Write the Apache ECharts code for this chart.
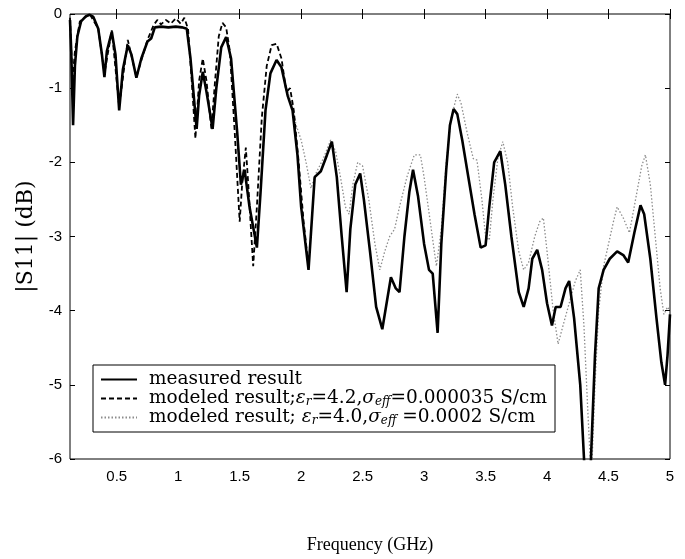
<!DOCTYPE html>
<html>

<head>
    <meta charset="utf-8">
    <title>|S11| vs Frequency</title>
    <script src="https://cdn.jsdelivr.net/npm/echarts@6/dist/echarts.min.js"></script>
    <style>
        body { margin: 0; background: #fff; }
        #chart { width: 685px; height: 559px; }
    </style>
</head>

<body>
    <div id="chart"></div>
    <script>
        // measured result (GHz, dB)
        var measFreq = [0.12, 0.13, 0.145, 0.16, 0.18, 0.21, 0.25, 0.28, 0.31, 0.35, 0.38, 0.40, 0.42, 0.46, 0.49, 0.52, 0.55, 0.59, 0.62, 0.66,
            0.70, 0.75, 0.78, 0.81, 0.86, 0.92, 0.98, 1.03, 1.07, 1.10, 1.15, 1.17, 1.20, 1.23, 1.28, 1.31, 1.35, 1.39, 1.43, 1.48,
            1.51, 1.54, 1.58, 1.64, 1.67, 1.71, 1.75, 1.80, 1.84, 1.89, 1.93, 1.97, 2.00, 2.06, 2.09, 2.11, 2.16, 2.21, 2.25, 2.29,
            2.33, 2.37, 2.40, 2.44, 2.48, 2.51, 2.56, 2.61, 2.66, 2.70, 2.73, 2.77, 2.80, 2.84, 2.88, 2.91, 2.95, 3.00, 3.04, 3.07,
            3.11, 3.14, 3.18, 3.21, 3.24, 3.27, 3.31, 3.36, 3.41, 3.46, 3.50, 3.53, 3.57, 3.62, 3.66, 3.71, 3.77, 3.81, 3.85, 3.88,
            3.92, 3.96, 4.00, 4.04, 4.07, 4.11, 4.15, 4.18, 4.22, 4.27, 4.31, 4.35, 4.39, 4.42, 4.46, 4.51, 4.57, 4.62, 4.66, 4.71,
            4.76, 4.79, 4.84, 4.89, 4.93, 4.96, 4.98, 5.00];
        var measVal = [-0.08, -0.5, -1.5, -0.7, -0.3, -0.1, -0.03, -0.01, -0.04, -0.2, -0.55, -0.85, -0.5, -0.24, -0.55, -1.3, -0.75, -0.42, -0.55, -0.86,
            -0.6, -0.37, -0.33, -0.18, -0.17, -0.18, -0.17, -0.18, -0.2, -0.6, -1.55, -1.1, -0.78, -1.05, -1.55, -1.0, -0.45, -0.31, -0.6, -1.6,
            -2.3, -2.1, -2.6, -3.15, -2.4, -1.3, -0.8, -0.62, -0.72, -1.1, -1.3, -1.9, -2.6, -3.45, -2.7, -2.2, -2.12, -1.9, -1.72, -2.2,
            -3.0, -3.75, -2.9, -2.3, -2.15, -2.5, -3.2, -3.95, -4.25, -3.85, -3.55, -3.7, -3.75, -3.0, -2.4, -2.1, -2.45, -3.1, -3.45, -3.5,
            -4.3, -3.1, -2.1, -1.5, -1.28, -1.35, -1.7, -2.2, -2.7, -3.15, -3.12, -2.6, -2.0, -1.85, -2.3, -3.0, -3.75, -3.95, -3.7, -3.3,
            -3.18, -3.45, -3.9, -4.2, -3.95, -3.95, -3.7, -3.6, -4.1, -5.0, -6.3, -6.3, -4.6, -3.7, -3.45, -3.3, -3.2, -3.25, -3.35, -2.95,
            -2.58, -2.7, -3.3, -4.1, -4.7, -5.0, -4.6, -4.05];

        // modeled, er=4.2, sigma=0.000035 S/cm
        var mod42Freq = [0.12, 0.14, 0.16, 0.20, 0.28, 0.35, 0.40, 0.46, 0.52, 0.59, 0.66, 0.75, 0.80, 0.83, 0.86, 0.90, 0.94, 0.98, 1.02, 1.05,
            1.08, 1.11, 1.14, 1.17, 1.20, 1.23, 1.27, 1.30, 1.33, 1.36, 1.39, 1.42, 1.46, 1.50, 1.52, 1.55, 1.57, 1.61, 1.64, 1.68,
            1.72, 1.76, 1.80, 1.84, 1.88, 1.91, 1.94, 1.98, 2.02, 2.06];
        var mod42Val = [-0.05, -0.9, -0.5, -0.1, 0.0, -0.2, -0.8, -0.22, -1.25, -0.35, -0.85, -0.35, -0.15, -0.08, -0.14, -0.08, -0.13, -0.06, -0.13, -0.05,
            -0.2, -0.9, -1.68, -0.9, -0.6, -0.9, -1.55, -0.9, -0.3, -0.12, -0.18, -0.5, -1.6, -2.8, -2.3, -1.8, -2.3, -3.4, -2.6, -1.4,
            -0.7, -0.42, -0.4, -0.6, -1.05, -1.0, -1.3, -2.0, -2.8, -3.4];

        // modeled, er=4.0, sigma=0.0002 S/cm
        var mod40Freq = [1.88, 1.92, 1.96, 2.00, 2.04, 2.08, 2.12, 2.18, 2.24, 2.28, 2.32, 2.36, 2.39, 2.42, 2.46, 2.50, 2.55, 2.60, 2.64, 2.68,
            2.72, 2.76, 2.80, 2.86, 2.92, 2.97, 3.00, 3.05, 3.10, 3.14, 3.18, 3.22, 3.27, 3.30, 3.35, 3.40, 3.43, 3.47, 3.50, 3.53,
            3.56, 3.60, 3.64, 3.68, 3.72, 3.77, 3.81, 3.85, 3.90, 3.94, 3.97, 4.00, 4.05, 4.09, 4.13, 4.18, 4.23, 4.27, 4.30, 4.33,
            4.36, 4.39, 4.42, 4.46, 4.50, 4.54, 4.57, 4.62, 4.67, 4.72, 4.77, 4.80, 4.84, 4.88, 4.92, 4.95, 4.98, 5.00];
        var mod40Val = [-1.0, -1.2, -1.5, -1.7, -2.0, -2.35, -2.15, -1.95, -1.7, -1.85, -2.2, -2.6, -2.7, -2.3, -2.0, -2.05, -2.5, -3.1, -3.45, -3.2,
            -3.0, -2.9, -2.6, -2.2, -1.9, -1.9, -2.2, -2.8, -3.4, -2.9, -2.0, -1.4, -1.08, -1.2, -1.6, -1.95, -1.97, -2.5, -3.0, -3.05,
            -2.5, -1.95, -1.72, -2.0, -2.6, -3.2, -3.45, -3.35, -3.0, -2.8, -2.75, -3.2, -4.0, -4.45, -4.2, -3.9, -3.6, -3.45, -4.2, -5.3,
            -6.3, -5.0, -4.0, -3.4, -3.1, -2.8, -2.6, -2.75, -2.95, -2.5, -2.05, -1.9, -2.3, -3.0, -3.7, -4.05, -3.95, -4.0];

        // tick labels
        var xTicks = [0.5, 1, 1.5, 2, 2.5, 3, 3.5, 4, 4.5, 5];
        var yTicks = [0, -1, -2, -3, -4, -5, -6];

        function pairs(xs, ys) {
            var out = [];
            for (var i = 0; i < xs.length; i++) out.push([xs[i], ys[i]]);
            return out;
        }

        var serif = '"Liberation Serif", "DejaVu Serif", serif';
        var wideSerif = '"DejaVu Serif", "Liberation Serif", serif';
        var sans = '"Liberation Sans", Arial, sans-serif';

        var chart = echarts.init(document.getElementById('chart'));

        var tickStyle = { inside: true, length: 5, lineStyle: { color: '#000' } };
        // legend text, with subscripts for epsilon_r and sigma_eff
        var legendNames = {
            measured: '{g|}{t|measured result}',
            mod42: '{g|}{t|modeled result;}{i|ε}{s|r}{t|=4.2,}{i|σ}{s|eff}{t|=0.000035 S/cm}',
            mod40: '{g|}{t|modeled result; }{i|ε}{s|r}{t|=4.0,}{i|σ}{s|eff}{t| =0.0002 S/cm}'
        };

        var option = {
            animation: false,
            backgroundColor: '#fff',
            grid: { left: 70, right: 15, top: 14, bottom: 99, show: true, borderColor: '#000', borderWidth: 1 },
            legend: {
                orient: 'vertical',
                left: 93,
                top: 365,
                backgroundColor: '#fff',
                borderColor: '#000',
                borderWidth: 1,
                borderRadius: 0,
                padding: [5, 8, 5, 7],
                itemWidth: 36,
                itemHeight: 10,
                itemGap: 0,
                itemStyle: { opacity: 0, borderWidth: 0 },
                data: ['measured', 'mod42', 'mod40'],
                formatter: function (name) { return legendNames[name]; },
                textStyle: {
                    rich: {
                        g: { width: 7 },
                        t: { fontFamily: wideSerif, fontSize: 18.5, color: '#000', lineHeight: 18 },
                        i: { fontFamily: wideSerif, fontSize: 18.5, fontStyle: 'italic', color: '#000', lineHeight: 18 },
                        s: { fontFamily: wideSerif, fontSize: 12, fontStyle: 'italic', color: '#000', lineHeight: 18, verticalAlign: 'bottom', padding: [6, 0, 0, 0] }
                    }
                }
            },
            xAxis: [{
                type: 'value',
                min: 0.12,
                max: 5,
                name: 'Frequency (GHz)',
                nameLocation: 'middle',
                nameGap: 77,
                nameTextStyle: { fontFamily: serif, fontSize: 18, color: '#000' },
                axisLine: { show: false },
                splitLine: { show: false },
                axisTick: Object.assign({ customValues: xTicks }, tickStyle),
                axisLabel: { customValues: xTicks, fontFamily: sans, fontSize: 15, color: '#000', margin: 10 }
            }, {
                type: 'value',
                position: 'top',
                min: 0.12,
                max: 5,
                axisLine: { show: false },
                splitLine: { show: false },
                axisTick: Object.assign({ customValues: xTicks }, tickStyle),
                axisLabel: { show: false }
            }],
            yAxis: [{
                type: 'value',
                min: -6,
                max: 0,
                interval: 1,
                name: '|S11| (dB)',
                nameLocation: 'middle',
                nameGap: 30,
                nameTextStyle: { fontFamily: wideSerif, fontSize: 22, color: '#000' },
                axisLine: { show: false },
                splitLine: { show: false },
                axisTick: Object.assign({ customValues: yTicks }, tickStyle),
                axisLabel: { customValues: yTicks, fontFamily: sans, fontSize: 15, color: '#000', margin: 8 }
            }, {
                type: 'value',
                position: 'right',
                min: -6,
                max: 0,
                interval: 1,
                axisLine: { show: false },
                splitLine: { show: false },
                axisTick: Object.assign({ customValues: yTicks }, tickStyle),
                axisLabel: { show: false }
            }],
            series: [{
                name: 'mod40',
                type: 'line',
                symbol: 'none',
                clip: true,
                data: pairs(mod40Freq, mod40Val),
                lineStyle: { color: '#8c8c8c', width: 1.3, type: [1.5, 2] },
                itemStyle: { color: '#8c8c8c' },
                z: 2
            }, {
                name: 'mod42',
                type: 'line',
                symbol: 'none',
                clip: true,
                data: pairs(mod42Freq, mod42Val),
                lineStyle: { color: '#000', width: 1.8, type: [5, 3] },
                itemStyle: { color: '#000' },
                z: 3
            }, {
                name: 'measured',
                type: 'line',
                symbol: 'none',
                clip: true,
                data: pairs(measFreq, measVal),
                lineStyle: { color: '#000', width: 2.6 },
                itemStyle: { color: '#000' },
                z: 4
            }]
        };
        chart.setOption(option);
    </script>
</body>

</html>
